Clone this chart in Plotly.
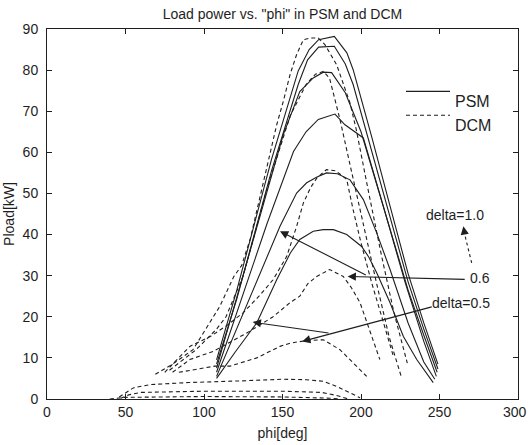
import plotly.graph_objects as go

# ---------------- data ----------------
# PSM (solid) curves, delta = 1.0 ... 0.5
psm_phi_10 = [108, 121, 143, 160, 167, 173, 183, 191, 195, 207, 218.5, 230, 240, 249]
psm_p_10 = [9.5, 26.6, 58.3, 79.8, 85, 87.4, 88.2, 84.2, 80.1, 63.5, 46.9, 30.5, 18.5, 8.5]
psm_phi_09 = [108, 121, 143, 160, 166, 173, 183, 190, 195, 207, 218.5, 230, 240, 249]
psm_p_09 = [8.5, 24.5, 55.5, 76.5, 82.5, 85.6, 85.8, 81.5, 76.5, 60, 44.5, 28.5, 17, 7.3]
psm_phi_08 = [108, 130, 150.5, 161, 169.6, 176, 181.3, 190, 200, 218, 230, 240, 248.5]
psm_p_08 = [7.5, 37, 64.3, 74.8, 78.1, 79.5, 79.4, 74.5, 65, 42, 26.5, 15.5, 6.5]
psm_phi_07 = [108, 125, 140, 157, 165, 172.8, 183.4, 189.8, 201.5, 214.2, 228, 240, 248]
psm_p_07 = [6.5, 25.5, 42.5, 60.2, 65, 68, 69.3, 66.7, 63.5, 46.9, 28.5, 14, 5.5]
psm_phi_06 = [108, 131.4, 139.9, 148.4, 159, 165.4, 172, 178, 185, 193, 201.5, 210, 218.5, 230, 240, 247]
psm_p_06 = [5.5, 26.6, 33.9, 42, 50.1, 52.6, 54, 55, 54.8, 53.3, 48.5, 40.4, 31.5, 18.5, 9, 4.8]
psm_phi_05 = [108, 120, 133.6, 146.3, 155, 161, 169.6, 176, 182.4, 190.9, 200.4, 205, 210, 218.5, 227, 235.5, 246]
psm_p_05 = [5, 11.5, 18.5, 29, 35.5, 38.8, 40.8, 41.2, 41.2, 40, 37.1, 34.5, 30.7, 23.4, 15.2, 9.6, 4]

# DCM (dashed) curves
dcm_phi_10 = [69, 80, 93, 110, 119, 124, 129.5, 146.3, 150.5, 154.8, 159, 163.3, 168, 172.8, 177, 184.5, 193, 197, 205, 213, 221, 229.5]
dcm_p_10 = [6, 8.5, 12, 22.5, 29.8, 32.5, 39, 66.7, 72.4, 78.9, 83.8, 87.4, 87.8, 87.8, 86.2, 81.3, 72, 65.5, 50, 35, 21, 8.7]
dcm_phi_09 = [78, 95, 108, 114, 125, 140, 155, 165, 171, 176, 180, 186.6, 193, 200, 210, 218, 226]
dcm_p_09 = [7, 12, 17, 20, 30, 51, 69, 76.5, 79, 79.7, 78, 68, 57, 45, 28, 15, 5]
dcm_phi_07 = [75, 91, 104, 115, 125, 135, 144, 152.7, 159, 163.3, 168, 172, 178, 184, 190.9, 195, 200, 207, 214, 220.6]
dcm_p_07 = [6.5, 12.8, 15.2, 18, 21, 25, 29, 34.7, 42, 47.7, 51.5, 53.8, 55.8, 55.5, 53.4, 46, 38, 28, 19, 10.4]
dcm_phi_06 = [80, 91, 106, 127, 144, 155, 161, 166, 171.8, 180, 188.7, 194, 199.4, 206, 212]
dcm_p_06 = [6.5, 9.6, 11.6, 16, 20, 23.5, 25, 28, 29.8, 31.5, 29.8, 27, 23.4, 16, 9.6]
dcm_phi_05 = [84, 107, 116.6, 133.6, 148.4, 155, 165, 176, 186.6, 195, 203.6]
dcm_p_05 = [6.5, 8, 8, 10, 12.8, 13.6, 14.2, 14.4, 12, 8.8, 5.5]
dcm_phi_04 = [46, 55, 65.6, 90, 123, 150, 165, 176, 185, 191, 199.4]
dcm_p_04 = [0.5, 2.7, 3.5, 4, 4.4, 4.8, 4.7, 4.3, 3, 1.9, 0.3]
dcm_phi_03 = [47, 52, 60, 100, 150, 175, 185, 192]
dcm_p_03 = [0.2, 1, 1.6, 1.9, 1.9, 1.6, 0.8, 0]
dcm_phi_02 = [40, 50, 100, 150, 180, 186]
dcm_p_02 = [0, 0.4, 0.6, 0.5, 0.2, 0]

x_ticks = [0, 50, 100, 150, 200, 250, 300]
y_ticks = [0, 10, 20, 30, 40, 50, 60, 70, 80, 90]

psm_series = [(psm_phi_10, psm_p_10), (psm_phi_09, psm_p_09), (psm_phi_08, psm_p_08),
              (psm_phi_07, psm_p_07), (psm_phi_06, psm_p_06), (psm_phi_05, psm_p_05)]
dcm_series = [(dcm_phi_10, dcm_p_10), (dcm_phi_09, dcm_p_09), (dcm_phi_07, dcm_p_07),
              (dcm_phi_06, dcm_p_06), (dcm_phi_05, dcm_p_05), (dcm_phi_04, dcm_p_04),
              (dcm_phi_03, dcm_p_03), (dcm_phi_02, dcm_p_02)]

# annotation arrows: (head_x, head_y, tail_x, tail_y)
arrows = [
    (191.5, 29.8, 267, 29.1),
    (148.4, 40.8, 204, 30.0),
    (162.5, 14.0, 246, 22.5),
    (131.0, 18.7, 180.3, 16.0),
]
labels = [("delta=1.0", 260, 44.8), ("0.6", 275.5, 29.4), ("delta=0.5", 264, 23.4)]

# ---------------- figure ----------------
INK = "#1e1e1e"
FONT = "Liberation Sans, Arial, sans-serif"
fig = go.Figure()

for phi, p in psm_series:
    fig.add_trace(go.Scatter(x=phi, y=p, mode="lines", name="PSM", showlegend=False,
                             line=dict(color=INK, width=1.1)))
for phi, p in dcm_series:
    fig.add_trace(go.Scatter(x=phi, y=p, mode="lines", name="DCM", showlegend=False,
                             line=dict(color=INK, width=1.1, dash="4px,3px")))

annotations = []
for hx, hy, tx, ty in arrows:
    annotations.append(dict(x=hx, y=hy, ax=tx, ay=ty, xref="x", yref="y", axref="x", ayref="y",
                            text="", showarrow=True, arrowhead=2, arrowsize=1.5,
                            arrowwidth=1.1, arrowcolor=INK, standoff=0))
# dashed arrow head (pointing up to delta=1.0)
annotations.append(dict(x=265.2, y=42.0, ax=266.2, ay=39.8, xref="x", yref="y", axref="x", ayref="y",
                        text="", showarrow=True, arrowhead=2, arrowsize=1.5,
                        arrowwidth=1.1, arrowcolor=INK, standoff=0))
for t, x, y in labels:
    annotations.append(dict(x=x, y=y, xref="x", yref="y", text=t, showarrow=False,
                            font=dict(size=14, color=INK, family=FONT)))


def px2paper(px, py):
    return (px - 47) / 471.0, (399.3 - py) / 370.0


# legend (drawn manually to mimic the MATLAB style)
for txt, py in (("PSM", 91.7), ("DCM", 115.5)):
    lx, ly = px2paper(453, py)
    annotations.append(dict(x=lx, y=ly, xref="paper", yref="paper", text=txt, showarrow=False,
                            xanchor="left", font=dict(size=16, color=INK, family=FONT)))

# last x tick label kept inside the page (it sits at the very right edge)
ex, ey = px2paper(527.5, 403.0)
annotations.append(dict(x=ex, y=ey, xref="paper", yref="paper", text=str(x_ticks[-1]),
                        showarrow=False, xanchor="right", yanchor="top", borderpad=0,
                        font=dict(size=14, color=INK, family=FONT)))

lx0, ly0 = px2paper(406, 91.7)
lx1, _ = px2paper(450, 91.7)
_, ly1 = px2paper(406, 115.5)
shapes = [
    dict(type="line", xref="paper", yref="paper", x0=lx0, x1=lx1, y0=ly0, y1=ly0,
         line=dict(color=INK, width=1.1)),
    dict(type="line", xref="paper", yref="paper", x0=lx0, x1=lx1, y0=ly1, y1=ly1,
         line=dict(color=INK, width=1.1, dash="4px,3px")),
    dict(type="line", xref="x", yref="y", x0=270.5, y0=33.1, x1=266.2, y1=39.8,
         line=dict(color=INK, width=1.1, dash="3px,3px")),
]

axis_common = dict(showgrid=False, zeroline=False, showline=True, linecolor=INK, linewidth=1,
                   mirror="ticks", ticks="inside", ticklen=5, tickcolor=INK,
                   automargin=False,
                   tickfont=dict(size=14, color=INK, family=FONT))

fig.update_layout(
    width=528, height=445,
    margin=dict(l=47, r=10, t=29, b=46, autoexpand=False),
    paper_bgcolor="white", plot_bgcolor="white",
    title=dict(text='Load power vs. "phi" in PSM and DCM', x=(47 + 518) / 2 / 528, xanchor="center",
               y=1 - 14 / 445, yanchor="middle", font=dict(size=14, color=INK, family=FONT)),
    xaxis=dict(range=[0, 300], tickvals=x_ticks,
               ticktext=[str(v) for v in x_ticks[:-1]] + [""],
               title=dict(text="phi[deg]", standoff=9, font=dict(size=14, color=INK, family=FONT)),
               **axis_common),
    yaxis=dict(range=[0, 90], tickvals=y_ticks, ticktext=[str(v) for v in y_ticks],
               ticklabelstandoff=5,
               title=dict(text="Pload[kW]", standoff=4, font=dict(size=14, color=INK, family=FONT)),
               **axis_common),
    annotations=annotations,
    shapes=shapes,
    showlegend=False,
)

fig.write_html("out.html")
